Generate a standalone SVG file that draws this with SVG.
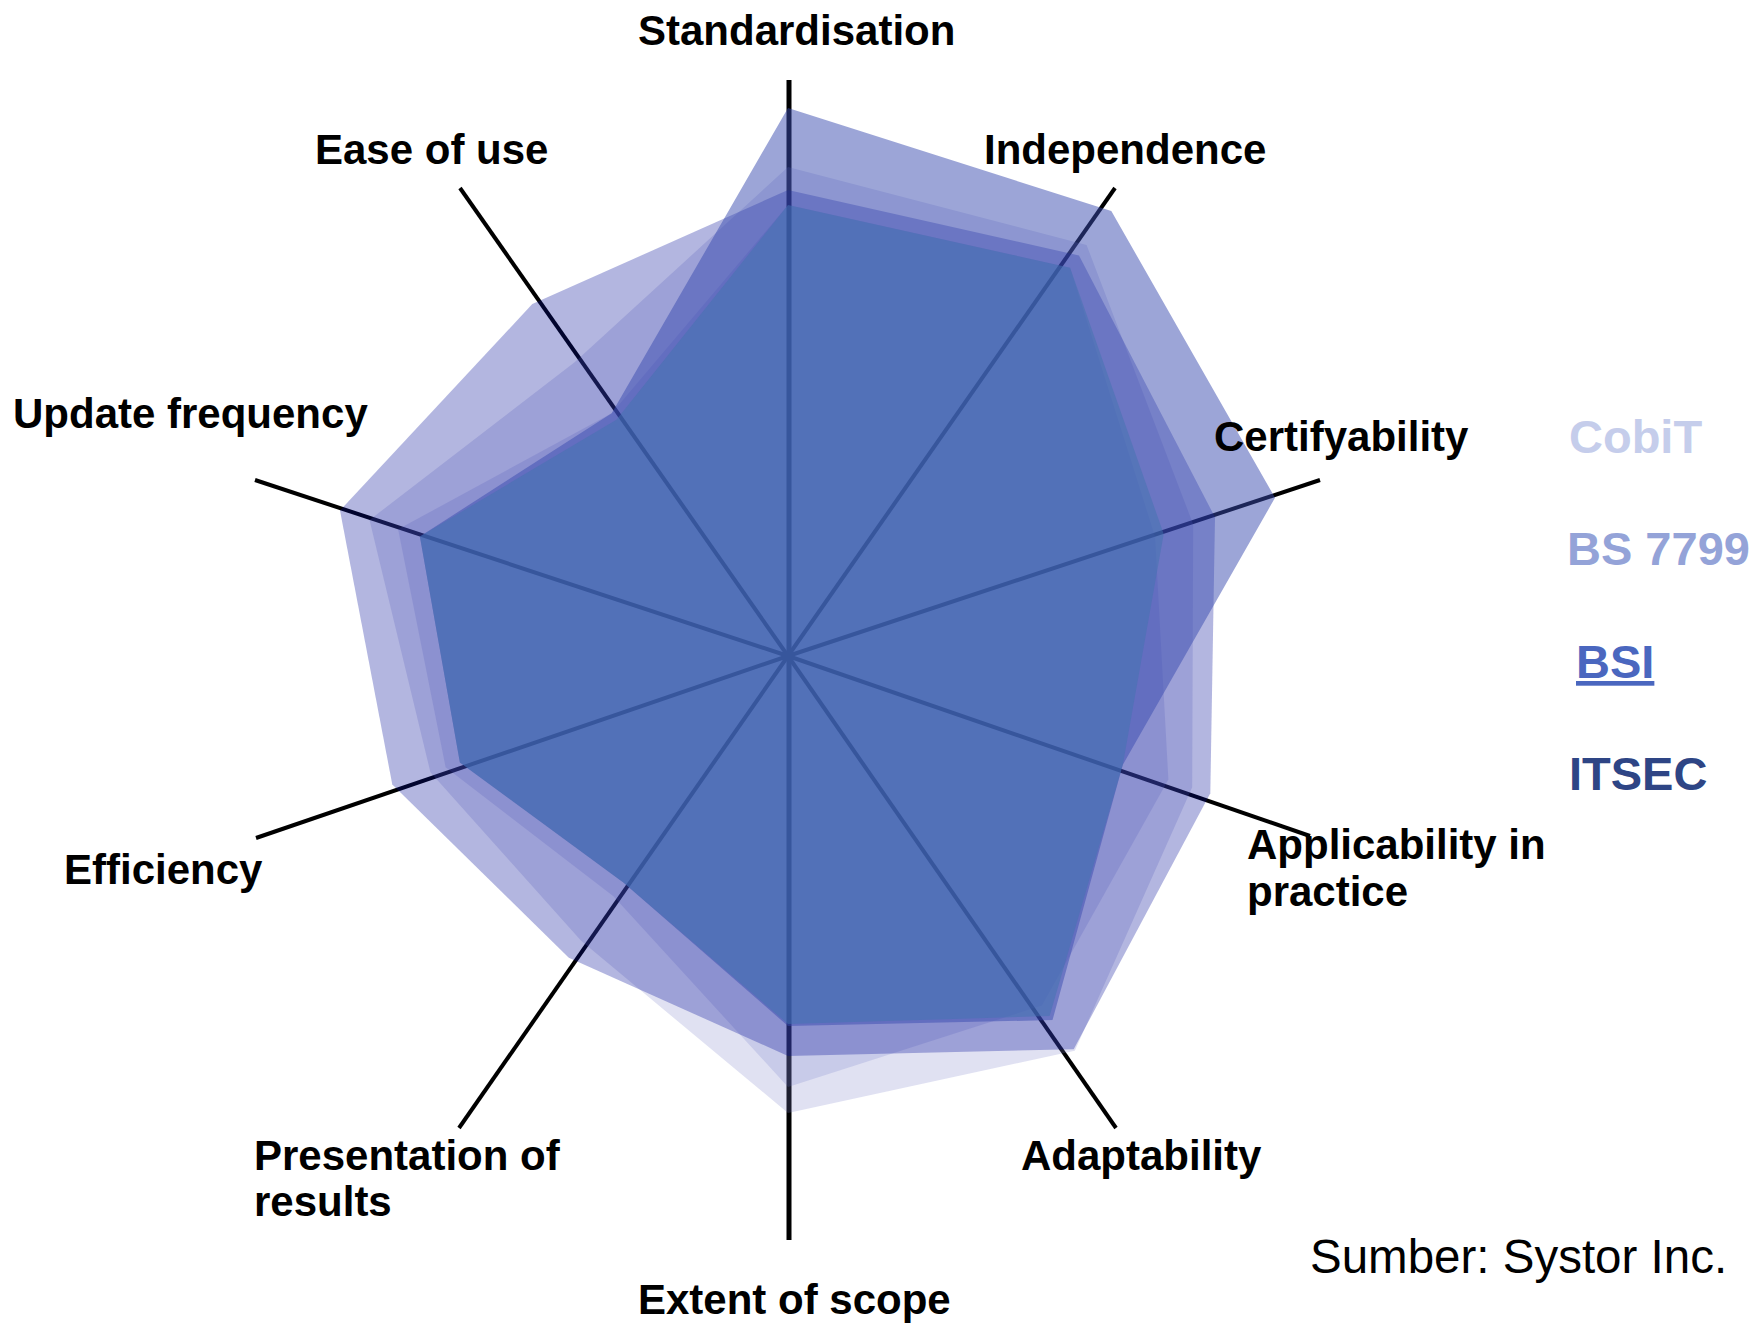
<svg xmlns="http://www.w3.org/2000/svg" width="1754" height="1324" viewBox="0 0 1754 1324">
<style>
.lbl{font-family:"Liberation Sans",Arial,sans-serif;font-weight:bold;font-size:42px;fill:#000}
.leg{font-family:"Liberation Sans",Arial,sans-serif;font-weight:bold;font-size:47px}
.axis{stroke:#000;stroke-width:4;stroke-linecap:butt;fill:none}
</style>
<rect width="1754" height="1324" fill="#fff"/>
<g id="connectors">
<line class="axis" x1="789" y1="80" x2="789" y2="1240" style="stroke-width:5"/>
<line class="axis" x1="788" y1="656" x2="1115" y2="188"/>
<line class="axis" x1="788" y1="656" x2="1320" y2="480"/>
<line class="axis" x1="788" y1="656" x2="1310" y2="836"/>
<line class="axis" x1="788" y1="656" x2="1116" y2="1128"/>
<line class="axis" x1="788" y1="656" x2="459" y2="1128"/>
<line class="axis" x1="788" y1="656" x2="256" y2="838"/>
<line class="axis" x1="788" y1="656" x2="255" y2="480"/>
<line class="axis" x1="788" y1="656" x2="460" y2="188"/>
</g>
<g id="series">
<g id="series-c"><polygon points="788,167 1086.6,245 1193.2,524.4 1192.2,787.3 1074.8,1050.8 788,1113 581.1,940.8 430.4,772.2 369.5,520 574.6,362.3" fill="#787dc8" fill-opacity="0.23"/></g>
<g id="series-d"><polygon points="788,205 1070.1,267.7 1155.1,536.7 1168.4,779.6 1041.9,1005.5 788,1087 613.4,896.3 445.6,767.2 398.1,529.3 611.7,413.3" fill="#6873c6" fill-opacity="0.2"/></g>
<g id="series-b"><polygon points="788,190 1079,255.5 1215,517.3 1210.3,793.2 1073.7,1049.2 788,1056 568.8,957.8 392.3,784.5 340,510.5 532.3,304.1" fill="#020d97" fill-opacity="0.3"/></g>
<g id="series-a"><polygon points="788,108 1111.3,211 1275,497.8 1122.8,764.8 1052.5,1020.1 788,1026 623.4,882.5 459.9,762.6 419.9,536.4 611.7,413.3" fill="#3a4caf" fill-opacity="0.5"/></g>
<g id="series-core"><polygon points="788,205 1070.1,267.7 1163.7,533.9 1122.8,764.8 1049.6,1016 788,1024 623.4,882.5 459.9,762.6 419.9,536.4 616.4,419.8" fill="#4174b0" fill-opacity="0.5"/></g>
</g>
<g id="label-standardisation"><text class="lbl" x="638" y="45">Standardisation</text></g>
<g id="label-ease"><text class="lbl" x="315" y="164">Ease of use</text></g>
<g id="label-independence"><text class="lbl" x="984" y="164">Independence</text></g>
<g id="label-update"><text class="lbl" x="13" y="428">Update frequency</text></g>
<g id="label-cert"><text class="lbl" x="1214" y="451">Certifyability</text></g>
<g id="label-applicability"><text class="lbl" x="1247" y="859">Applicability in</text><text class="lbl" x="1247" y="906">practice</text></g>
<g id="label-efficiency"><text class="lbl" x="64" y="884">Efficiency</text></g>
<g id="label-presentation"><text class="lbl" x="254" y="1170">Presentation of</text><text class="lbl" x="254" y="1216">results</text></g>
<g id="label-adaptability"><text class="lbl" x="1021" y="1170">Adaptability</text></g>
<g id="label-extent"><text class="lbl" x="638" y="1314">Extent of scope</text></g>
<g id="legend">
<text class="leg" x="1569" y="453" fill="#c5cdeb">CobiT</text>
<text class="leg" x="1567" y="565" fill="#94a3d8">BS 7799</text>
<text class="leg" x="1576" y="678" fill="#4a67bf" text-decoration="underline">BSI</text>
<text class="leg" x="1569" y="790" fill="#2e4585">ITSEC</text>
</g>
<g id="source"><text x="1310" y="1273" style="font-family:'Liberation Sans',Arial,sans-serif;font-size:47.5px;fill:#000">Sumber: Systor Inc.</text></g>
</svg>
